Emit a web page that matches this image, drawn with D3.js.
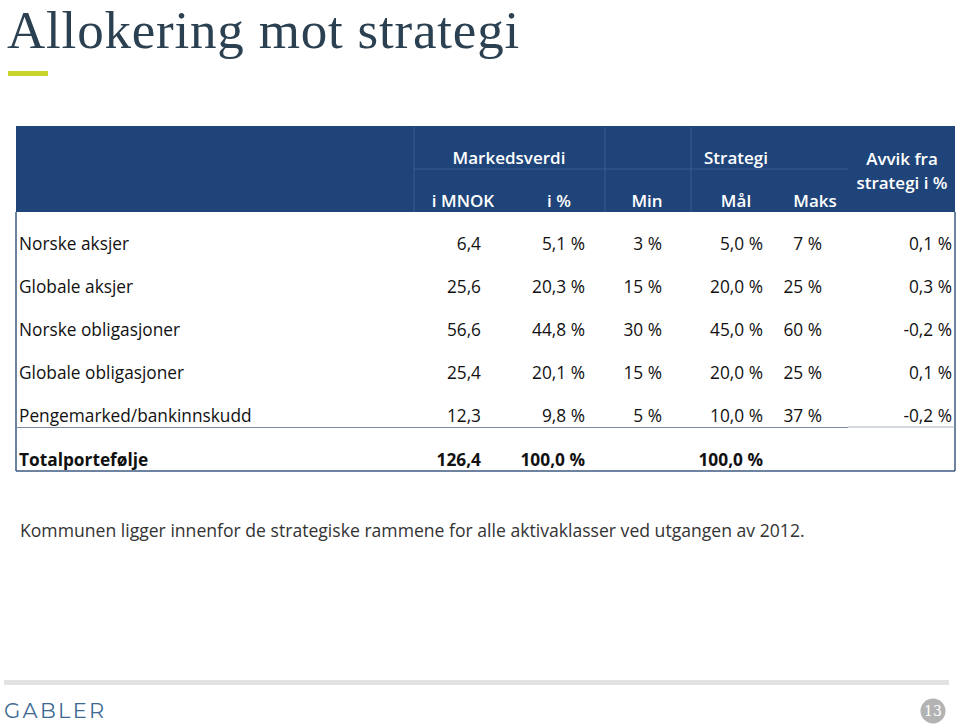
<!DOCTYPE html>
<html><head><meta charset="utf-8">
<script src="https://cdn.jsdelivr.net/npm/d3@7"></script>
<style>body{margin:0;background:#fff;}svg{display:block;}</style>
</head><body>
<script>
const categories = ["Norske aksjer","Globale aksjer","Norske obligasjoner","Globale obligasjoner","Pengemarked/bankinnskudd"];
const mnok  = ["6,4","25,6","56,6","25,4","12,3"];
const pct   = ["5,1 %","20,3 %","44,8 %","20,1 %","9,8 %"];
const minV  = ["3 %","15 %","30 %","15 %","5 %"];
const malV  = ["5,0 %","20,0 %","45,0 %","20,0 %","10,0 %"];
const maksV = ["7 %","25 %","60 %","25 %","37 %"];
const avvik = ["0,1 %","0,3 %","-0,2 %","0,1 %","-0,2 %"];
const totalLabel = "Totalportefølje";
const totalRow = ["126,4","100,0 %","","100,0 %","",""];
const colKeys = ["mnok","pct","min","mal","maks","avvik"];
const colHeaders = ["i MNOK","i %","Min","Mål","Maks",""];

const W=959,H=725;
const svg=d3.select("body").append("svg").attr("width",W).attr("height",H);
const font="'Open Sans', sans-serif";

// title
svg.append("text").attr("x",7).attr("y",47.5).text("Allokering mot strategi")
  .attr("font-family","'Liberation Serif', serif").attr("font-size",53).attr("letter-spacing",0.8).attr("fill","#2b4152");
svg.append("rect").attr("x",8).attr("y",71).attr("width",40).attr("height",5).attr("fill","#c9d42b");

// header box
const left=16,right=955;
svg.append("rect").attr("x",left).attr("y",126).attr("width",right-left).attr("height",86).attr("fill","#1f4479");
const hl="#3a5d8e";
[414,605,691].forEach(x=>svg.append("line").attr("x1",x).attr("x2",x).attr("y1",127).attr("y2",212).attr("stroke",hl).attr("stroke-width",1));
svg.append("line").attr("x1",414).attr("x2",848).attr("y1",169).attr("y2",169).attr("stroke",hl);

const colRight = d3.scaleOrdinal().domain(colKeys).range([481,585,662,763,822,952]);
const colCenter = d3.scaleOrdinal().domain(colKeys).range([463,559,647,736,815,902]);

const hdr=svg.append("g").attr("font-family",font).attr("font-weight","600").attr("fill","#fff").attr("font-size",17).attr("text-anchor","middle");
hdr.append("text").attr("x",509).attr("y",164).text("Markedsverdi").attr("fill","#fff");
hdr.append("text").attr("x",736).attr("y",164).text("Strategi").attr("fill","#fff");
hdr.append("text").attr("x",902).attr("y",165).text("Avvik fra").attr("fill","#fff");
hdr.append("text").attr("x",902).attr("y",189).text("strategi i %").attr("fill","#fff");
colKeys.forEach((k,i)=>{ if(colHeaders[i]) hdr.append("text").attr("x",colCenter(k)).attr("y",207).text(colHeaders[i]).attr("fill","#fff"); });

const y=d3.scaleBand().domain(d3.range(categories.length)).range([222,437]);
const body=svg.append("g").attr("font-family",font).attr("font-size",17.3).attr("fill","#111");
const rows=categories.map((c,i)=>({c,vals:[mnok[i],pct[i],minV[i],malV[i],maksV[i],avvik[i]]}));
rows.forEach((r,i)=>{
  const by=y(i)+y.bandwidth()/2+6;
  body.append("text").attr("x",19).attr("y",by).text(r.c);
  r.vals.forEach((v,j)=>body.append("text").attr("x",colRight(colKeys[j])).attr("y",by).attr("text-anchor","end").text(v));
});
const ty=466;
body.append("text").attr("x",19).attr("y",ty).attr("font-weight","bold").text(totalLabel);
totalRow.forEach((v,j)=>{ if(v) body.append("text").attr("x",colRight(colKeys[j])).attr("y",ty).attr("text-anchor","end").attr("font-weight","bold").text(v); });

const bc="#3c5a80";
svg.append("line").attr("x1",left).attr("x2",left).attr("y1",212).attr("y2",471).attr("stroke",bc).attr("stroke-width",1.5);
svg.append("line").attr("x1",right).attr("x2",right).attr("y1",212).attr("y2",471).attr("stroke",bc).attr("stroke-width",1.5);
svg.append("line").attr("x1",left).attr("x2",right).attr("y1",471).attr("y2",471).attr("stroke",bc).attr("stroke-width",1.5);
svg.append("line").attr("x1",left).attr("x2",848).attr("y1",427.5).attr("y2",427.5).attr("stroke","#7a8ba3").attr("stroke-width",1.2);
svg.append("line").attr("x1",848).attr("x2",right).attr("y1",427).attr("y2",427).attr("stroke","#aab4c2").attr("stroke-width",1.2);

svg.append("text").attr("x",20).attr("y",537).attr("font-family",font).attr("font-size",17.6).attr("fill","#333")
  .text("Kommunen ligger innenfor de strategiske rammene for alle aktivaklasser ved utgangen av 2012.");

svg.append("rect").attr("x",4).attr("y",680).attr("width",945).attr("height",5).attr("fill","#e2e2e2");
svg.append("text").attr("x",4).attr("y",718).attr("font-family","Montserrat, 'Open Sans', sans-serif").attr("font-size",21)
  .attr("letter-spacing",2.3).attr("fill","#3d6a92").text("GABLER");
svg.append("circle").attr("cx",933).attr("cy",711).attr("r",12.5).attr("fill","#b3b3b3");
svg.append("text").attr("x",933).attr("y",716).attr("text-anchor","middle").attr("font-family","'DejaVu Serif', serif")
  .attr("font-size",14).attr("fill","#fff").text("13");
</script>
</body></html>
